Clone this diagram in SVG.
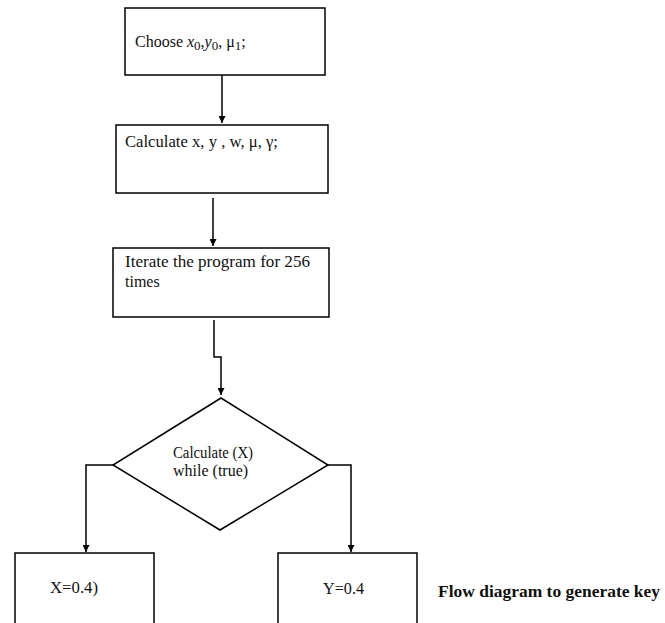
<svg xmlns="http://www.w3.org/2000/svg" width="665" height="623" viewBox="0 0 665 623">
<style>
.box{fill:#fff;stroke:#000;stroke-width:1.5}
.ln{fill:none;stroke:#000;stroke-width:1.5}
.t{font-family:"Liberation Serif","Times New Roman",serif;font-size:16px;fill:#111}
.b{font-weight:bold;font-size:17px}
</style>
<defs>
<marker id="ah" viewBox="0 0 10 10" refX="10" refY="5" markerWidth="8" markerHeight="7" markerUnits="userSpaceOnUse" orient="auto">
<path d="M0,0 L10,5 L0,10 z" fill="#000"/>
</marker>
</defs>
<rect width="665" height="623" fill="#fff"/>
<g id="connectors">
<path class="ln" d="M222,75 V123" marker-end="url(#ah)"/>
<path class="ln" d="M213,198 V246" marker-end="url(#ah)"/>
<path class="ln" d="M214,320 V357 H221 V395" marker-end="url(#ah)"/>
<path class="ln" d="M113,465 H86 V552" marker-end="url(#ah)"/>
<path class="ln" d="M328,465 H351 V552" marker-end="url(#ah)"/>
</g>
<g id="n1">
<rect class="box" x="125" y="8" width="200" height="67"/>
<text class="t" x="135" y="47" font-size="17">Choose <tspan font-style="italic">x</tspan><tspan font-size="13" dy="3">0</tspan><tspan dy="-3">,</tspan><tspan font-style="italic">y</tspan><tspan font-size="13" dy="3">0</tspan><tspan dy="-3">, μ</tspan><tspan font-size="13" dy="3">1</tspan><tspan dy="-3">;</tspan></text>
</g>
<g id="n2">
<rect class="box" x="116" y="125" width="212" height="68"/>
<text class="t" x="125" y="147" font-size="16.5" textLength="153" lengthAdjust="spacingAndGlyphs">Calculate x, y , w, μ, γ;</text>
</g>
<g id="n3">
<rect class="box" x="113" y="248" width="216" height="69"/>
<text class="t" x="125" y="267" font-size="18" textLength="185" lengthAdjust="spacingAndGlyphs">Iterate the program for 256</text>
<text class="t" x="125" y="287" font-size="18">times</text>
</g>
<g id="n4">
<polygon class="box" points="221,398 328,465 220,530 113,465"/>
<text class="t" x="173" y="458" font-size="14.5" textLength="80" lengthAdjust="spacingAndGlyphs">Calculate (X)</text>
<text class="t" x="173" y="476" font-size="14.5">while (true)</text>
</g>
<g id="n5">
<rect class="box" x="15" y="553" width="139" height="90"/>
<text class="t" x="50" y="593" font-size="17" textLength="48" lengthAdjust="spacingAndGlyphs">X=0.4)</text>
</g>
<g id="n6">
<rect class="box" x="278" y="553" width="139" height="90"/>
<text class="t" x="323" y="594" font-size="16.5" textLength="41" lengthAdjust="spacingAndGlyphs">Y=0.4</text>
</g>
<text class="t b" x="438" y="597" textLength="222" lengthAdjust="spacingAndGlyphs">Flow diagram to generate key</text>
</svg>
